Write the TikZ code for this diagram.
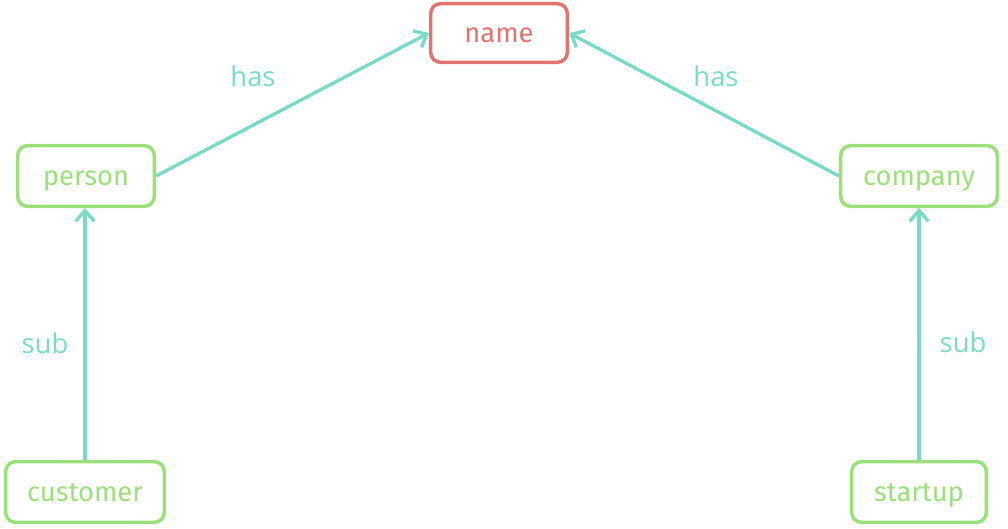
\documentclass[tikz,border=0pt]{standalone}
\usepackage{fontspec}
\setmainfont{Fira Sans}
\newfontfamily\labfont{Open Sans}
\usetikzlibrary{arrows.meta}
\definecolor{cred}{HTML}{E2736F}
\definecolor{cgreen}{HTML}{9BE07A}
\definecolor{cteal}{HTML}{78DBC8}
\tikzset{
  box/.style={draw=cgreen, line width=2.6pt, rounded corners=7.5pt, text=cgreen,
    minimum height=45.5pt, inner sep=0pt, text height=15.5pt, text depth=1.25pt,
    font=\fontsize{20.5}{20.5}\selectfont},
  redbox/.style={box, draw=cred, text=cred, minimum height=44pt},
  link/.style={draw=cteal, line width=2.5pt, -{Straight Barb[length=8pt,width=14pt,line width=2.5pt]}},
  lab/.style={text=cteal, font=\labfont\fontsize{20.5}{20.5}\selectfont, inner sep=0pt}
}
\begin{document}
\begin{tikzpicture}[x=0.75pt,y=-0.75pt]
\useasboundingbox (0,0) rectangle (1008,529);
\node[redbox, minimum width=102.5pt] (name) at (499,33) {name};
\node[box, minimum width=102.5pt] (person) at (86,176) {person};
\node[box, minimum width=117.5pt] (company) at (919,176) {company};
\node[box, minimum width=119pt] (customer) at (85,492) {customer};
\node[box, minimum width=101pt] (startup) at (919,492) {startup};
\draw[link] (person.east) -- (name.west);
\draw[link] (company.west) -- (name.east);
\draw[link] (customer.north) -- (customer.north |- person.south);
\draw[link] (startup.north) -- (startup.north |- company.south);
\node[lab] (has1) at (253,76) {has};
\node[lab] (has2) at (716,76) {has};
\node[lab] (sub1) at (45,343) {sub};
\node[lab] (sub2) at (963,342) {sub};
\end{tikzpicture}
\end{document}
